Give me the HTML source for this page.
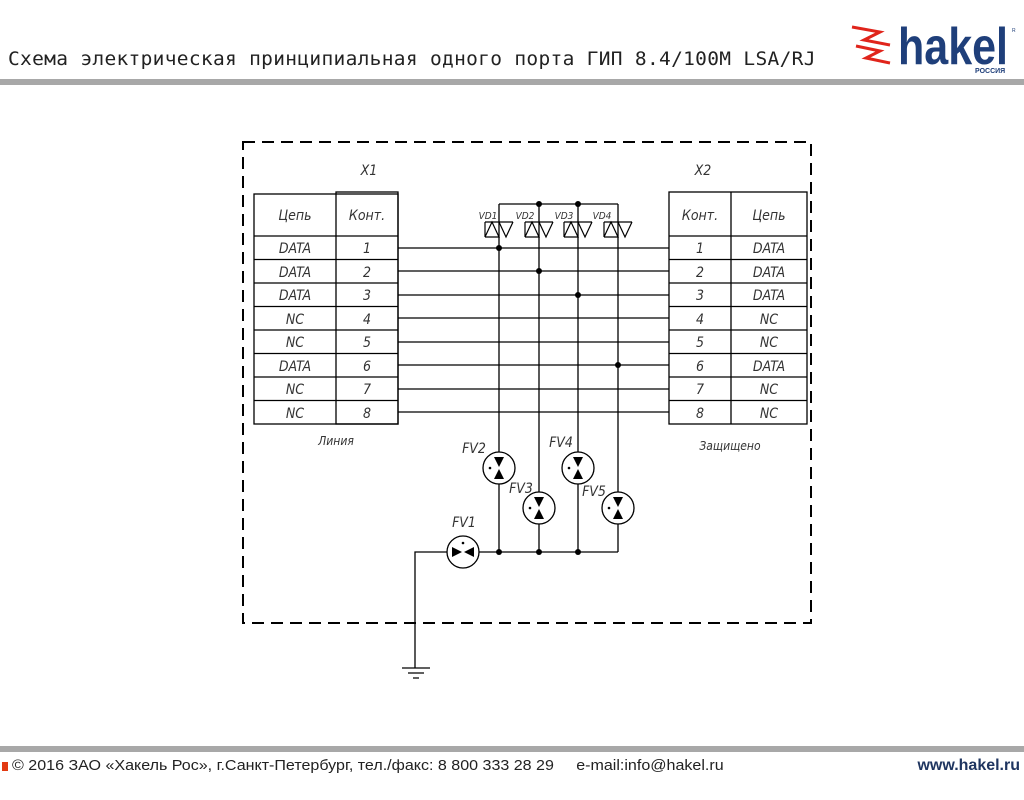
<!DOCTYPE html>
<html><head><meta charset="utf-8"><style>
body{margin:0;width:1024px;height:800px;background:#fff;overflow:hidden;position:relative;font-family:"Liberation Sans","DejaVu Sans",sans-serif}
.t{position:absolute;left:8px;top:48px;font-family:"DejaVu Sans Mono","Liberation Mono",monospace;font-size:19px;letter-spacing:0.3px;color:#222;transform:scaleX(1.027);transform-origin:left;white-space:nowrap}
</style></head><body>
<div class="t">Схема электрическая принципиальная одного порта ГИП 8.4/100М LSA/RJ</div>
<div style="position:absolute;left:0;top:79px;width:1024px;height:6px;background:#a8a8a8"></div>
<div style="position:absolute;left:0;top:746px;width:1024px;height:6px;background:#a8a8a8"></div>
<div style="position:absolute;left:2px;top:762px;width:6px;height:9px;background:#e23a12"></div>
<div style="position:absolute;left:12px;top:757px;font-size:15px;color:#222;transform:scaleX(1.07);transform-origin:left;white-space:nowrap">© 2016 ЗАО «Хакель Рос», г.Санкт-Петербург, тел./факс: 8 800 333 28 29 &nbsp;&nbsp;&nbsp; e-mail:info@hakel.ru</div>
<div style="position:absolute;right:4px;top:757px;font-size:16px;font-weight:bold;color:#1f3560">www.hakel.ru</div>
<svg width="1024" height="800" style="position:absolute;left:0;top:0">
<g fill="none" stroke="#e0241b" stroke-width="3">
<path d="M852 27 L880 32 L864 40 L890 45"/><path d="M856 46 L880 51 L866 58 L890 63"/>
</g>
<text x="898" y="64" font-family="Liberation Sans" font-weight="bold" font-size="52" fill="#1f3f7a" textLength="110" lengthAdjust="spacingAndGlyphs">hakel</text>
<text x="975" y="73" font-family="Liberation Sans" font-weight="bold" font-size="7" fill="#1f3f7a">РОССИЯ</text>
<text x="1012" y="32" font-size="5" fill="#1f3f7a">R</text>
<rect x="243" y="142" width="568" height="481" fill="none" stroke="#000" stroke-width="2" stroke-dasharray="12,7"/>
<g stroke="#000" stroke-width="1.3" fill="none">
<rect x="254" y="194" width="144" height="230"/><rect x="336" y="192" width="62" height="232"/>
<rect x="669" y="192" width="138" height="232"/><line x1="731" y1="192" x2="731" y2="424"/>
<path d="M254 236H398M254 259.5H398M254 283H398M254 306.5H398M254 330H398M254 353.5H398M254 377H398M254 400.5H398"/>
<path d="M669 236H807M669 259.5H807M669 283H807M669 306.5H807M669 330H807M669 353.5H807M669 377H807M669 400.5H807"/>
<path d="M398 248H669M398 271H669M398 295H669M398 318H669M398 342H669M398 365H669M398 389H669M398 412H669"/>
<path d="M499 204H618M499 204V460M539 204V500M578 204V460M618 204V500"/>
<path d="M499 476V552M539 516V552M578 476V552M618 516V552M479 552H618M447 552H415V668"/>
<path d="M402 668H430M408 673H424M413 678H419"/>
<circle cx="499" cy="468" r="16" fill="#fff"/><circle cx="539" cy="508" r="16" fill="#fff"/>
<circle cx="578" cy="468" r="16" fill="#fff"/><circle cx="618" cy="508" r="16" fill="#fff"/>
<circle cx="463" cy="552" r="16" fill="#fff"/>
</g>
<g fill="#000">
<circle cx="499" cy="248" r="3"/><circle cx="539" cy="271" r="3"/><circle cx="578" cy="295" r="3"/><circle cx="618" cy="365" r="3"/>
<circle cx="539" cy="204" r="3"/><circle cx="578" cy="204" r="3"/>
<circle cx="499" cy="552" r="3"/><circle cx="539" cy="552" r="3"/><circle cx="578" cy="552" r="3"/>
</g>
<g fill="#000">
<path d="M494 457L504 457L499 467Z"/><path d="M494 479L504 479L499 469Z"/><circle cx="490" cy="468" r="1.3"/>
<path d="M534 497L544 497L539 507Z"/><path d="M534 519L544 519L539 509Z"/><circle cx="530" cy="508" r="1.3"/>
<path d="M573 457L583 457L578 467Z"/><path d="M573 479L583 479L578 469Z"/><circle cx="569" cy="468" r="1.3"/>
<path d="M613 497L623 497L618 507Z"/><path d="M613 519L623 519L618 509Z"/><circle cx="609" cy="508" r="1.3"/>
<path d="M452 547L452 557L462 552Z"/><path d="M474 547L474 557L464 552Z"/><circle cx="463" cy="543" r="1.3"/>
</g>
<g stroke="#000" stroke-width="1.2" fill="none">
<path d="M485 222H513M485 222V237M485 237H499L492 222L485 237M499 222L506 237L513 222"/>
<path d="M525 222H553M525 222V237M525 237H539L532 222L525 237M539 222L546 237L553 222"/>
<path d="M564 222H592M564 222V237M564 237H578L571 222L564 237M578 222L585 237L592 222"/>
<path d="M604 222H632M604 222V237M604 237H618L611 222L604 237M618 222L625 237L632 222"/>
</g>
<g font-family="DejaVu Sans Condensed,DejaVu Sans,sans-serif" font-style="italic" font-size="14" fill="#333" text-anchor="middle">
<text x="369" y="175">X1</text><text x="703" y="175">X2</text>
<text x="295" y="220">Цепь</text><text x="367" y="220">Конт.</text>
<text x="700" y="220">Конт.</text><text x="769" y="220">Цепь</text>
<text x="295" y="253">DATA</text><text x="295" y="277">DATA</text><text x="295" y="300">DATA</text><text x="295" y="324">NC</text><text x="295" y="347">NC</text><text x="295" y="371">DATA</text><text x="295" y="394">NC</text><text x="295" y="418">NC</text>
<text x="367" y="253">1</text><text x="367" y="277">2</text><text x="367" y="300">3</text><text x="367" y="324">4</text><text x="367" y="347">5</text><text x="367" y="371">6</text><text x="367" y="394">7</text><text x="367" y="418">8</text>
<text x="700" y="253">1</text><text x="700" y="277">2</text><text x="700" y="300">3</text><text x="700" y="324">4</text><text x="700" y="347">5</text><text x="700" y="371">6</text><text x="700" y="394">7</text><text x="700" y="418">8</text>
<text x="769" y="253">DATA</text><text x="769" y="277">DATA</text><text x="769" y="300">DATA</text><text x="769" y="324">NC</text><text x="769" y="347">NC</text><text x="769" y="371">DATA</text><text x="769" y="394">NC</text><text x="769" y="418">NC</text>
<text x="336" y="445" font-size="12">Линия</text><text x="730" y="450" font-size="12">Защищено</text>
<text x="474" y="453">FV2</text><text x="521" y="493">FV3</text><text x="561" y="447">FV4</text><text x="594" y="496">FV5</text><text x="464" y="527">FV1</text>
<g font-size="10"><text x="488" y="219">VD1</text><text x="525" y="219">VD2</text><text x="564" y="219">VD3</text><text x="602" y="219">VD4</text></g>
</g>
</svg>
</body></html>
